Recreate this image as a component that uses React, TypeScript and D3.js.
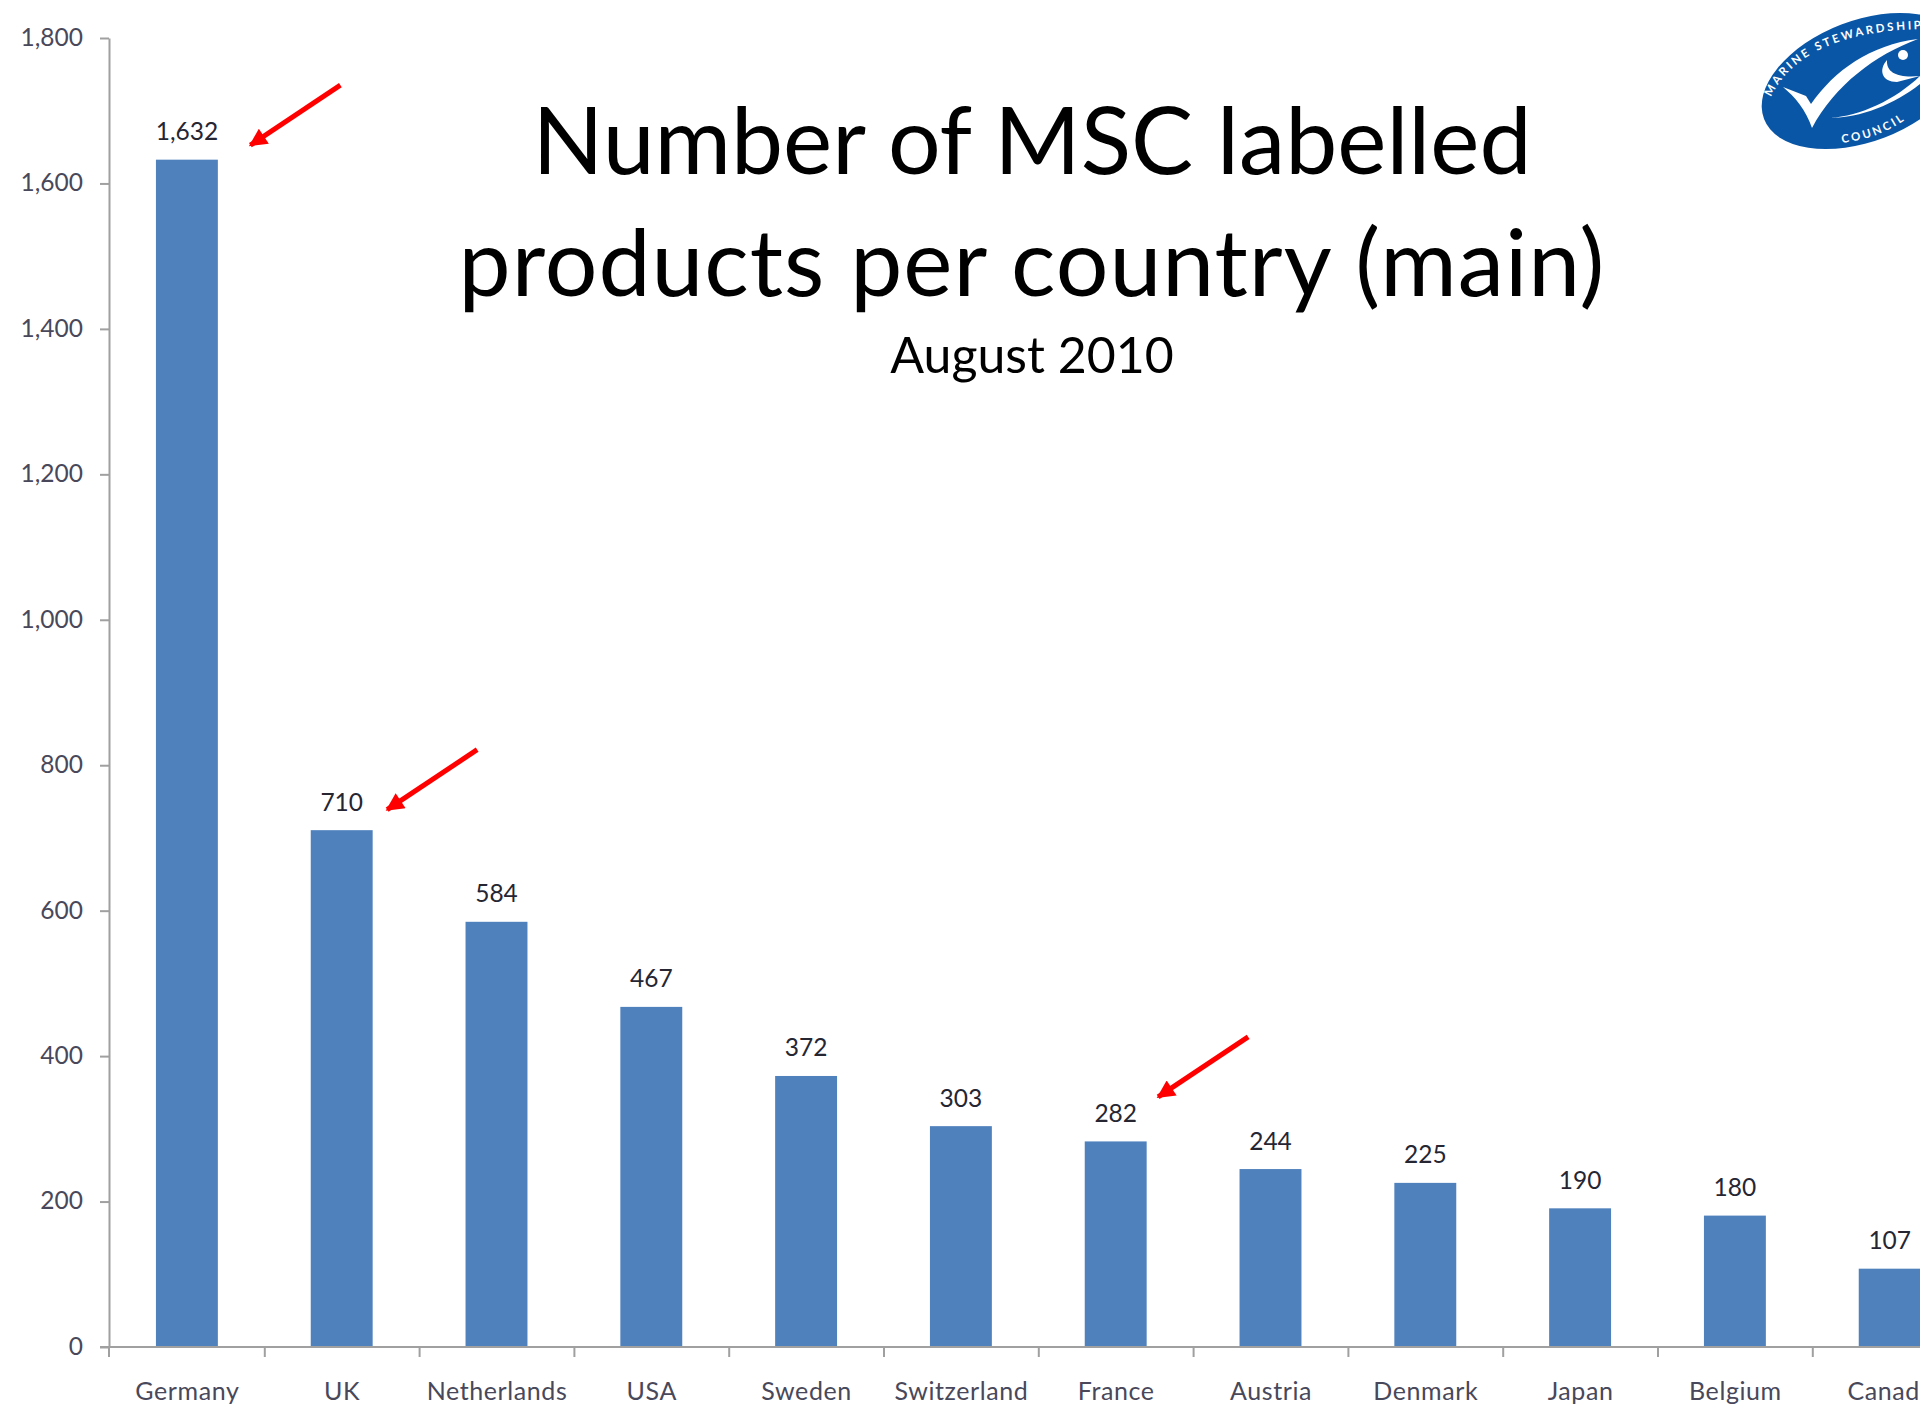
import React, { useEffect, useRef } from 'react';
import * as d3 from 'd3';

const countries = ['Germany', 'UK', 'Netherlands', 'USA', 'Sweden', 'Switzerland', 'France', 'Austria', 'Denmark', 'Japan', 'Belgium', 'Canada'];
const products = [1632, 710, 584, 467, 372, 303, 282, 244, 225, 190, 180, 107];
const yTicks = [0, 200, 400, 600, 800, 1000, 1200, 1400, 1600, 1800];
const highlighted = ['Germany', 'UK', 'France'];
const titleLines = ['Number of MSC labelled', 'products per country (main)'];
const subtitle = 'August 2010';

const FONT = 'Lato, "Open Sans", sans-serif';

export default function App() {
  const svgRef = useRef<SVGSVGElement>(null);

  useEffect(() => {
    if (!svgRef.current) return;
    const svg = d3.select(svgRef.current);
    svg.selectAll('*').remove();

    const axisX = 109;
    const bandStart = 110;
    const step = 154.8;
    const x = d3.scaleBand<string>()
      .domain(countries)
      .range([bandStart, bandStart + step * countries.length])
      .paddingInner(0.6)
      .paddingOuter(0.3);
    const y = d3.scaleLinear().domain([0, 1800]).range([1347, 38]);

    // Bars
    svg.append('g')
      .selectAll('rect')
      .data(countries)
      .join('rect')
      .attr('x', d => x(d)! - 0.5)
      .attr('y', (d, i) => y(products[i]) - 0.5)
      .attr('width', x.bandwidth())
      .attr('height', (d, i) => y(0) - y(products[i]) + 0.5)
      .attr('fill', '#4f81bd');

    // Value labels
    svg.append('g')
      .selectAll('text')
      .data(countries)
      .join('text')
      .attr('x', d => x(d)! + x.bandwidth() / 2 - 0.5)
      .attr('y', (d, i) => y(products[i]) - 20)
      .attr('text-anchor', 'middle')
      .attr('font-family', FONT)
      .attr('font-size', 24.5)
      .attr('fill', '#262633')
      .text((d, i) => d3.format(',')(products[i]));

    // Y axis
    const yAxis = svg.append('g')
      .attr('transform', `translate(${axisX},0)`)
      .call(d3.axisLeft(y).tickValues(yTicks).tickFormat(d3.format(',') as any).tickSize(9).tickSizeOuter(0));
    yAxis.selectAll('path,line').attr('stroke', '#a0a0a0').attr('stroke-width', 2);
    yAxis.selectAll('text')
      .attr('font-family', FONT)
      .attr('font-size', 24.5)
      .attr('fill', '#48485a')
      .attr('x', -26)
      .attr('dy', '0.3em');

    // X axis: ticks sit between the categories
    const xEdges = d3.range(countries.length + 1).map(i => (i === 0 ? axisX : bandStart + step * i));
    const xAxis = svg.append('g').attr('transform', `translate(0,${y(0)})`);
    xAxis.append('line')
      .attr('x1', axisX - 9)
      .attr('x2', 1920)
      .attr('stroke', '#a0a0a0')
      .attr('stroke-width', 2);
    xAxis.selectAll('line.tick')
      .data(xEdges)
      .join('line')
      .attr('class', 'tick')
      .attr('x1', d => d)
      .attr('x2', d => d)
      .attr('y1', 0)
      .attr('y2', 10)
      .attr('stroke', '#a0a0a0')
      .attr('stroke-width', 2);
    xAxis.selectAll('text')
      .data(countries)
      .join('text')
      .attr('x', d => x(d)! + x.bandwidth() / 2)
      .attr('y', 53)
      .attr('text-anchor', 'middle')
      .attr('font-family', FONT)
      .attr('font-size', 25)
      .attr('letter-spacing', 0.6)
      .attr('fill', '#48485a')
      .text(d => d);

    // Title
    const title = svg.append('g').attr('font-family', FONT).attr('text-anchor', 'middle').attr('fill', '#000');
    title.selectAll('text.line')
      .data(titleLines)
      .join('text')
      .attr('class', 'line')
      .attr('x', 1032)
      .attr('y', (d, i) => 174 + i * 122)
      .attr('font-size', 93)
      .attr('letter-spacing', (d, i) => (i === 0 ? 0 : 1))
      .text(d => d);
    title.append('text')
      .attr('x', 1032)
      .attr('y', 373)
      .attr('font-size', 50)
      .text(subtitle);

    // Red arrows next to the highlighted countries
    const defs = svg.append('defs');
    defs.append('marker')
      .attr('id', 'arrowhead')
      .attr('viewBox', '0 0 10 10')
      .attr('refX', 9)
      .attr('refY', 5)
      .attr('markerUnits', 'userSpaceOnUse')
      .attr('markerWidth', 22)
      .attr('markerHeight', 18)
      .attr('orient', 'auto')
      .append('path')
      .attr('d', 'M0,0 L10,5 L0,10 Z')
      .attr('fill', '#ff0000');
    const arrowOffset = [[32, -15], [14, -21], [11, -45]];
    svg.append('g')
      .selectAll('line')
      .data(highlighted)
      .join('line')
      .attr('x1', (d, i) => x(d)! + x.bandwidth() + arrowOffset[i][0] + 90)
      .attr('y1', (d, i) => y(products[countries.indexOf(d)]) + arrowOffset[i][1] - 60)
      .attr('x2', (d, i) => x(d)! + x.bandwidth() + arrowOffset[i][0])
      .attr('y2', (d, i) => y(products[countries.indexOf(d)]) + arrowOffset[i][1])
      .attr('stroke', '#ff0000')
      .attr('stroke-width', 5)
      .attr('marker-end', 'url(#arrowhead)');

    // MSC logo
    const logo = svg.append('g');
    logo.append('ellipse')
      .attr('transform', 'translate(1863,81) rotate(-21)')
      .attr('rx', 106)
      .attr('ry', 60.5)
      .attr('fill', '#0a56a6');
    logo.append('path').attr('id', 'logoTop').attr('d', 'M1771,97 C1790,56 1840,30 1925,29').attr('fill', 'none');
    logo.append('path').attr('id', 'logoBottom').attr('d', 'M1842,143 Q1885,138 1915,112').attr('fill', 'none');
    logo.append('text').attr('font-family', FONT).attr('font-size', 11.5).attr('font-weight', 700)
      .attr('letter-spacing', 2.6).attr('fill', '#fff')
      .append('textPath').attr('href', '#logoTop').text('MARINE STEWARDSHIP');
    logo.append('text').attr('font-family', FONT).attr('font-size', 11.5).attr('font-weight', 700)
      .attr('letter-spacing', 2.6).attr('fill', '#fff')
      .append('textPath').attr('href', '#logoBottom').text('COUNCIL');
    logo.append('path')
      .attr('d', 'M1783,87 L1806,96 L1811,104 C1835,70 1870,45 1918,39 C1875,55 1835,85 1812,128 C1806,110 1795,97 1783,87 Z')
      .attr('fill', '#fff');
    logo.append('path')
      .attr('d', 'M1830,118 C1860,116 1895,100 1920,76 L1920,84 C1895,104 1860,118 1830,118 Z')
      .attr('fill', '#fff');
    logo.append('path')
      .attr('d', 'M1887,60 C1878,70 1882,82 1897,82 L1920,76 C1900,78 1886,74 1887,60 Z')
      .attr('fill', '#fff');
    logo.append('circle').attr('cx', 1903).attr('cy', 55).attr('r', 5).attr('fill', '#fff');
  }, []);

  return (
    <svg
      ref={svgRef}
      width={1920}
      height={1408}
      style={{ position: 'absolute', left: 0, top: 0, background: '#fff' }}
    />
  );
}
